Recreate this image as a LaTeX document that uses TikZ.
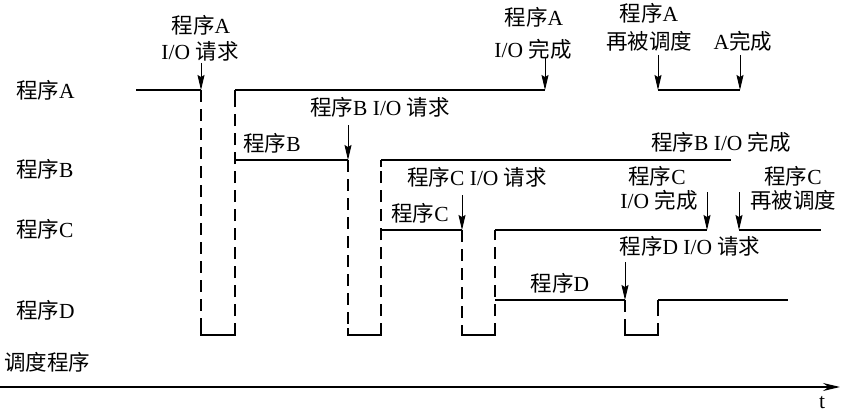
\documentclass[tikz,border=0pt]{standalone}
\usepackage{fontspec}
\setmainfont{Liberation Serif}
\newfontfamily\cjk{Noto Sans CJK SC}
\usetikzlibrary{arrows.meta}
\newcommand{\zh}[1]{{\cjk #1}}
% scheduler dip: x-left, x-right, y-top-left, y-top-right
\newcommand{\dip}[4]{%
  \draw[sched] (#1,#3) -- (#1,335);
  \draw[sched] (#2,335) -- (#2,#4);
  \draw[run] (#1,#3) -- ++(0,7);
  \draw[run] (#2,#4) -- ++(0,7);
  \draw[run] (#1,328) -- (#1,335) -- (#2,335) -- (#2,328);
}
\begin{document}
\begin{tikzpicture}[x=1pt,y=-1pt,
  lbl/.style={inner sep=0pt, font=\fontsize{21.5}{24}\selectfont},
  run/.style={line width=1.4pt},
  sched/.style={line width=1.4pt, dash pattern=on 12pt off 7pt},
  evt/.style={line width=1pt, -{Stealth[length=15pt,width=7pt,inset=2pt]}},
  axis/.style={line width=1.2pt, -{Stealth[length=17pt,width=8pt]}},
]
\useasboundingbox (0,0) rectangle (846,412);

% row labels
\node[lbl, anchor=west] (la) at (16,90) {\zh{程序}A};
\node[lbl, anchor=west] (lb) at (16,169) {\zh{程序}B};
\node[lbl, anchor=west] (lc) at (16,229) {\zh{程序}C};
\node[lbl, anchor=west] (ld) at (16,310) {\zh{程序}D};
\node[lbl, anchor=west] (ls) at (4,362) {\zh{调度程序}};

% time axis
\coordinate (t0) at (0,387);
\coordinate (t1) at (840,387);
\draw[axis] (t0) -- (t1);
\node[lbl] (tl) at (822,403) {t};

% running segments
\draw[run] (136,90) -- (201,90);
\draw[run] (235,90) -- (545,90);
\draw[run] (658,90) -- (740,90);
\draw[run] (235,160) -- (348,160);
\draw[run] (381,160) -- (731,160);
\draw[run] (381,230) -- (462,230);
\draw[run] (495,230) -- (707,230);
\draw[run] (739,230) -- (821,230);
\draw[run] (495,300) -- (625,300);
\draw[run] (658,300) -- (788,300);

% scheduler dips
\dip{201}{235}{90}{90}
\dip{348}{381}{160}{160}
\dip{462}{495}{230}{230}
\dip{625}{658}{300}{300}

% event arrows
\coordinate (e1a) at (201,63);  \coordinate (e1b) at (201,90);
\coordinate (e2a) at (545,57);  \coordinate (e2b) at (545,90);
\coordinate (e3a) at (658,55);  \coordinate (e3b) at (658,90);
\coordinate (e4a) at (740,55);  \coordinate (e4b) at (740,90);
\coordinate (e5a) at (348,125); \coordinate (e5b) at (348,160);
\coordinate (e6a) at (462,195); \coordinate (e6b) at (462,230);
\coordinate (e7a) at (707,192); \coordinate (e7b) at (707,230);
\coordinate (e8a) at (739,192); \coordinate (e8b) at (739,230);
\coordinate (e9a) at (625,262); \coordinate (e9b) at (625,300);
\foreach \i in {1,...,9} {\draw[evt] (e\i a) -- (e\i b);}

% event labels
\node[lbl] (n1a) at (201,25) {\zh{程序}A};
\node[lbl] (n1b) at (200,51) {I/O \zh{请求}};
\node[lbl] (n2a) at (534,17) {\zh{程序}A};
\node[lbl] (n2b) at (533,49) {I/O \zh{完成}};
\node[lbl] (n3a) at (649,13) {\zh{程序}A};
\node[lbl] (n3b) at (649,41) {\zh{再被调度}};
\node[lbl] (n4) at (743,41) {A\zh{完成}};
\node[lbl] (n5) at (380,107) {\zh{程序}B I/O \zh{请求}};
\node[lbl] (n6) at (477,177) {\zh{程序}C I/O \zh{请求}};
\node[lbl] (n7a) at (657,176) {\zh{程序}C};
\node[lbl] (n7b) at (659,200) {I/O \zh{完成}};
\node[lbl] (n8a) at (793,176) {\zh{程序}C};
\node[lbl] (n8b) at (793,200) {\zh{再被调度}};
\node[lbl] (n9) at (690,246) {\zh{程序}D I/O \zh{请求}};
\node[lbl] (rb) at (272,143) {\zh{程序}B};
\node[lbl] (rbd) at (721,142) {\zh{程序}B I/O \zh{完成}};
\node[lbl] (rc) at (420,213) {\zh{程序}C};
\node[lbl] (rd) at (560,283) {\zh{程序}D};
\end{tikzpicture}
\end{document}
